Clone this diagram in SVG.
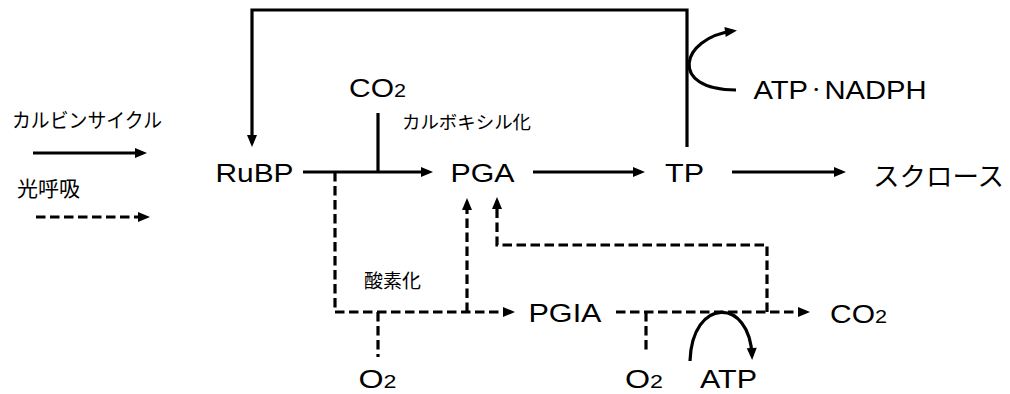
<svg xmlns="http://www.w3.org/2000/svg" width="1010" height="394" viewBox="0 0 1010 394">
<style>
.bg{fill:#fff}
.lat{font-family:"Liberation Sans","Noto Sans CJK JP",Arial,sans-serif;font-size:25px;fill:#000}
.jp{font-family:"Noto Sans CJK JP",sans-serif;fill:#000}
.sub{font-size:18px}
.dot{font-size:14px}
.s{fill:none;stroke:#000;stroke-width:3.2}
.d{fill:none;stroke:#000;stroke-width:3.2;stroke-dasharray:9.5 4.5}
</style>
<defs>
<marker id="ah" markerUnits="userSpaceOnUse" markerWidth="12" markerHeight="10" refX="8" refY="5" orient="auto" overflow="visible">
<path d="M0,0 L12,5 L0,10 z" fill="#000"/>
</marker>
</defs>
<rect class="bg" width="1010" height="394"/>

<g id="legend">
<text class="jp" x="12" y="128" font-size="20" textLength="150" lengthAdjust="spacingAndGlyphs">カルビンサイクル</text>
<path class="s" d="M33,153 H143" marker-end="url(#ah)"/>
<text class="jp" x="17" y="196" font-size="21">光呼吸</text>
<path class="d" d="M36,217 H146" marker-end="url(#ah)"/>
</g>

<g id="connectors">
<path class="s" d="M687,147 V10 H252 V143" marker-end="url(#ah)"/>
<path class="s" d="M303,172 H429" marker-end="url(#ah)"/>
<path class="s" d="M378,113 V172"/>
<path class="s" d="M533,172 H641" marker-end="url(#ah)"/>
<path class="s" d="M732,172 H842" marker-end="url(#ah)"/>
<path class="s" d="M736,90 C668,90 680,38 733,31" marker-end="url(#ah)"/>
<path class="d" d="M335,172 V312 H511" marker-end="url(#ah)"/>
<path class="d" d="M467,312 V202" marker-end="url(#ah)"/>
<path class="d" d="M767,312 V245 H497 V201" marker-end="url(#ah)"/>
<path class="d" d="M616,312 H806" marker-end="url(#ah)"/>
<path class="d" d="M378,312 V357"/>
<path class="d" d="M646,312 V353"/>
<path class="s" d="M690,361 C692,297 750,297 752,356" marker-end="url(#ah)"/>
</g>

<g id="RuBP"><text class="lat" x="215.5" y="182" textLength="78" lengthAdjust="spacingAndGlyphs">RuBP</text></g>
<g id="CO2-top"><text class="lat" x="349" y="97" textLength="57" lengthAdjust="spacingAndGlyphs">CO<tspan class="sub">2</tspan></text></g>
<g id="carboxylation"><text class="jp" x="402" y="129" font-size="18" textLength="129" lengthAdjust="spacingAndGlyphs">カルボキシル化</text></g>
<g id="PGA"><text class="lat" x="450.5" y="182" textLength="64" lengthAdjust="spacingAndGlyphs">PGA</text></g>
<g id="TP"><text class="lat" x="665" y="182" textLength="39" lengthAdjust="spacingAndGlyphs">TP</text></g>
<g id="ATP-NADPH"><text class="lat" x="753.5" y="99" textLength="173" lengthAdjust="spacingAndGlyphs">ATP<tspan class="dot" dy="-5">・</tspan><tspan dy="5">NADPH</tspan></text></g>
<g id="sucrose"><text class="jp" x="873" y="186" font-size="26" textLength="131" lengthAdjust="spacingAndGlyphs">スクロース</text></g>
<g id="oxygenation"><text class="jp" x="364" y="288" font-size="19">酸素化</text></g>
<g id="PGIA"><text class="lat" x="528.5" y="322" textLength="73" lengthAdjust="spacingAndGlyphs">PGIA</text></g>
<g id="CO2-right"><text class="lat" x="830" y="323" textLength="57" lengthAdjust="spacingAndGlyphs">CO<tspan class="sub">2</tspan></text></g>
<g id="O2-left"><text class="lat" x="358.5" y="388" textLength="38" lengthAdjust="spacingAndGlyphs">O<tspan class="sub">2</tspan></text></g>
<g id="O2-right"><text class="lat" x="625" y="388" textLength="38" lengthAdjust="spacingAndGlyphs">O<tspan class="sub">2</tspan></text></g>
<g id="ATP"><text class="lat" x="700" y="388" textLength="57" lengthAdjust="spacingAndGlyphs">ATP</text></g>
</svg>
